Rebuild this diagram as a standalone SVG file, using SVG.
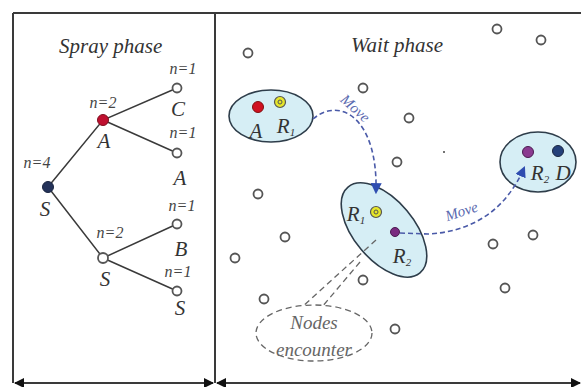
<svg xmlns="http://www.w3.org/2000/svg" width="581" height="387" viewBox="0 0 581 387">
<defs>
<style>
.frame{stroke:#3a3a3a;stroke-width:2;fill:none}
.edge{stroke:#3a3a3a;stroke-width:1.5;fill:none}
.title{font-family:"Liberation Serif",serif;font-style:italic;font-size:21px;fill:#333}
.lbl{font-family:"Liberation Serif",serif;font-style:italic;font-size:21px;fill:#333;text-anchor:middle}
.n{font-family:"Liberation Serif",serif;font-style:italic;font-size:16px;fill:#444;text-anchor:middle}
.open{fill:#fff;stroke:#555;stroke-width:1.8}
.grp{fill:#d6eef5;stroke:#2e3d4a;stroke-width:1.6}
.move{stroke:#4a5aa8;stroke-width:1.6;fill:none;stroke-dasharray:5 3}
.movet{font-family:"Liberation Serif",serif;font-style:italic;font-size:15px;fill:#5b6ab0}
.enc{stroke:#666;stroke-width:1.3;fill:none;stroke-dasharray:6 4}
.enct{font-family:"Liberation Serif",serif;font-style:italic;font-size:19px;fill:#666;text-anchor:middle}
</style>
<marker id="ah" viewBox="0 0 10 10" refX="9" refY="5" markerWidth="10" markerHeight="10" markerUnits="userSpaceOnUse" orient="auto">
<path d="M0,0 L10,5 L0,10 Z" fill="#111"/>
</marker>
<marker id="ahs" viewBox="0 0 10 10" refX="1" refY="5" markerWidth="10" markerHeight="10" markerUnits="userSpaceOnUse" orient="auto">
<path d="M10,0 L0,5 L10,10 Z" fill="#111"/>
</marker>
<marker id="mv" viewBox="0 0 10 10" refX="8" refY="5" markerWidth="11" markerHeight="11" markerUnits="userSpaceOnUse" orient="auto">
<path d="M0,0 L10,5 L0,10 Z" fill="#2f4db0"/>
</marker>
</defs>
<rect width="581" height="387" fill="#fff"/>
<g id="frame">
<path class="frame" d="M13,13 L581,13 M13,13 L13,383 M215,13 L215,383"/>
<line class="frame" x1="15" y1="383" x2="213" y2="383" marker-start="url(#ahs)" marker-end="url(#ah)"/>
<line class="frame" x1="217" y1="383" x2="580" y2="383" marker-start="url(#ahs)" marker-end="url(#ah)"/>
<text class="title" x="59" y="53">Spray phase</text>
<text class="title" x="351" y="52">Wait phase</text>
</g>
<g id="tree-edges">
<path class="edge" d="M48,187 L103,120 L177,88 M103,120 L177,153 M48,187 L103,258 L177,224 M103,258 L177,291"/>
</g>
<g id="node-S-root"><circle cx="48" cy="187" r="5.5" fill="#24335a" stroke="#1a2540"/><text class="lbl" x="45" y="216">S</text><text class="n" x="37" y="168">n=4</text></g>
<g id="node-A"><circle cx="103" cy="120" r="5.5" fill="#c01030" stroke="#801020"/><text class="lbl" x="104" y="148">A</text><text class="n" x="103" y="108">n=2</text></g>
<g id="node-C"><circle class="open" cx="177" cy="88" r="4.5"/><text class="lbl" x="178" y="116">C</text><text class="n" x="183" y="74">n=1</text></g>
<g id="node-A-leaf"><circle class="open" cx="177" cy="153" r="4.5"/><text class="lbl" x="180" y="185">A</text><text class="n" x="183" y="138">n=1</text></g>
<g id="node-S-mid"><circle class="open" cx="103" cy="258" r="5"/><text class="lbl" x="105" y="286">S</text><text class="n" x="110" y="238">n=2</text></g>
<g id="node-B"><circle class="open" cx="177" cy="224" r="4.5"/><text class="lbl" x="181" y="256">B</text><text class="n" x="182" y="211">n=1</text></g>
<g id="node-S-leaf"><circle class="open" cx="177" cy="291" r="4.5"/><text class="lbl" x="180" y="315">S</text><text class="n" x="178" y="277">n=1</text></g>
<g id="nodes-wait">
<circle class="open" cx="248" cy="53" r="4.5"/>
<circle class="open" cx="497" cy="29" r="4.5"/>
<circle class="open" cx="541" cy="40" r="4.5"/>
<circle class="open" cx="363" cy="88" r="4.5"/>
<circle class="open" cx="409" cy="118" r="4.5"/>
<circle class="open" cx="397" cy="162" r="4.5"/>
<circle class="open" cx="258" cy="194" r="4.5"/>
<circle class="open" cx="285" cy="237" r="4.5"/>
<circle class="open" cx="235" cy="258" r="4.5"/>
<circle class="open" cx="264" cy="299" r="4.5"/>
<circle class="open" cx="363" cy="280" r="4.5"/>
<circle class="open" cx="395" cy="329" r="4.5"/>
<circle class="open" cx="493" cy="244" r="4.5"/>
<circle class="open" cx="533" cy="235" r="4.5"/>
<circle class="open" cx="505" cy="288" r="4.5"/>
<circle cx="444" cy="152" r="1" fill="#444"/>
</g>
<g id="group-A-R1">
<ellipse class="grp" cx="271" cy="116" rx="42" ry="26"/>
<circle cx="258" cy="107" r="5.5" fill="#d01020" stroke="#801010"/>
<circle cx="280" cy="102" r="5.5" fill="#e6e62a" stroke="#555" stroke-width="1.2"/>
<circle cx="280" cy="102" r="2" fill="none" stroke="#555" stroke-width="1"/>
<text class="lbl" x="256" y="138">A</text>
<text class="lbl" x="286" y="133">R<tspan font-size="11" dy="3">1</tspan></text>
</g>
<g id="group-R1-R2">
<ellipse class="grp" cx="384" cy="230" rx="56" ry="30" transform="rotate(50 384 230)"/>
<circle cx="376" cy="212" r="5.5" fill="#e6e62a" stroke="#555" stroke-width="1.2"/>
<circle cx="376" cy="212" r="2" fill="none" stroke="#555" stroke-width="1"/>
<circle cx="395" cy="232" r="4.5" fill="#7a2a80" stroke="#4a1a50"/>
<text class="lbl" x="356" y="221">R<tspan font-size="11" dy="3">1</tspan></text>
<text class="lbl" x="402" y="263">R<tspan font-size="11" dy="3">2</tspan></text>
</g>
<g id="group-R2-D">
<ellipse class="grp" cx="538" cy="162" rx="38" ry="30"/>
<circle cx="528" cy="152" r="5.5" fill="#8a3a90" stroke="#4a1a50"/>
<circle cx="558" cy="151" r="5.5" fill="#24407a" stroke="#1a2540"/>
<text class="lbl" x="540" y="180">R<tspan font-size="11" dy="3">2</tspan></text>
<text class="lbl" x="563" y="180">D</text>
</g>
<g id="encounter">
<ellipse class="enc" cx="314" cy="333" rx="58" ry="28"/>
<text class="enct" x="314" y="329">Nodes</text>
<text class="enct" x="314" y="356">encounter</text>
</g>
<g id="connectors">
<path class="move" d="M313,119 C340,96 378,118 376,192" marker-end="url(#mv)"/>
<path class="move" d="M400,233 L428,234 C470,232 505,212 524,168" marker-end="url(#mv)"/>
<path class="enc" d="M376,240 L302,307 M360,262 L322,307"/>
<text class="movet" x="352" y="112" text-anchor="middle" transform="rotate(42 352 112)">Move</text>
<text class="movet" x="463" y="216" text-anchor="middle" transform="rotate(-18 463 216)">Move</text>
</g>
</svg>
